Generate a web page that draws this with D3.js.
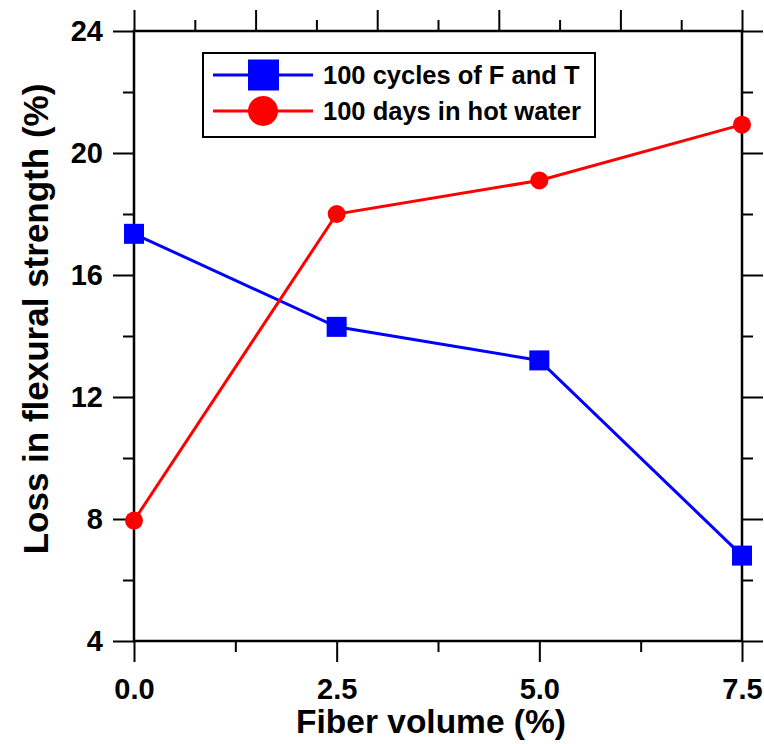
<!DOCTYPE html>
<html><head><meta charset="utf-8">
<script src="https://cdn.jsdelivr.net/npm/d3@7"></script>
<style>
html,body{margin:0;padding:0;background:#fff;}
svg{display:block;font-family:"Liberation Sans",Arial,sans-serif;font-weight:bold;}
</style></head>
<body><svg id="c" width="764" height="744"></svg>
<script>
const fiberVolume = [0, 2.5, 5.0, 7.5];
const freezeThaw = [17.35, 14.3, 13.2, 6.8];
const hotWater = [7.95, 18.0, 19.1, 20.93];
const seriesNames = ["100 cycles of F and T", "100 days in hot water"];
const xTicks = [0, 2.5, 5.0, 7.5];
const yTicks = [4, 8, 12, 16, 20, 24];
const xTitle = "Fiber volume (%)";
const yTitle = "Loss in flexural strength (%)";

const L = 134, R = 742, T = 31, B = 641;
const svg = d3.select("#c");
const x = d3.scaleLinear().domain([0, 7.5]).range([L, R]);
const y = d3.scaleLinear().domain([4, 24]).range([B, T]);

function styleAxis(g){
  g.select(".domain").remove();
  g.selectAll(".tick line").attr("stroke","#000").attr("stroke-width",2);
  g.selectAll(".tick text").attr("font-size",29).attr("font-weight","bold").attr("fill","#000").attr("font-family","'Liberation Sans',Arial,sans-serif");
}
// bottom axis
svg.append("g").attr("transform",`translate(0,${B})`)
  .call(d3.axisBottom(x).tickValues([1.25,3.75,6.25]).tickSize(11).tickFormat(""))
  .call(styleAxis);
svg.append("g").attr("transform",`translate(0,${B})`)
  .call(d3.axisBottom(x).tickValues(xTicks).tickSize(21).tickPadding(16).tickFormat(d3.format(".1f")))
  .call(styleAxis);
// top axis
svg.append("g").attr("transform",`translate(0,${T})`)
  .call(d3.axisTop(x).tickValues([0.75,2.25,3.75,5.25,6.75]).tickSize(11).tickFormat(""))
  .call(styleAxis);
svg.append("g").attr("transform",`translate(0,${T})`)
  .call(d3.axisTop(x).tickValues([0,1.5,3,4.5,6,7.5]).tickSize(21).tickFormat(""))
  .call(styleAxis);
// left axis
const yMinor = [6,10,14,18,22];
svg.append("g").attr("transform",`translate(${L},0)`)
  .call(d3.axisLeft(y).tickValues(yMinor).tickSize(11).tickFormat(""))
  .call(styleAxis);
svg.append("g").attr("transform",`translate(${L},0)`)
  .call(d3.axisLeft(y).tickValues(yTicks).tickSize(21).tickPadding(10).tickFormat(d3.format("d")))
  .call(styleAxis);
// right axis
svg.append("g").attr("transform",`translate(${R},0)`)
  .call(d3.axisRight(y).tickValues(yMinor).tickSize(11).tickFormat(""))
  .call(styleAxis);
svg.append("g").attr("transform",`translate(${R},0)`)
  .call(d3.axisRight(y).tickValues(yTicks).tickSize(21).tickFormat(""))
  .call(styleAxis);
// frame
svg.append("rect").attr("x",L).attr("y",T).attr("width",R-L).attr("height",B-T)
  .attr("fill","none").attr("stroke","#000").attr("stroke-width",2.5);

// titles
svg.append("text").attr("x",431).attr("y",733).attr("text-anchor","middle")
  .attr("font-size",33.5).attr("fill","#000").text(xTitle);
svg.append("text").attr("transform",`translate(48,319) rotate(-90)`).attr("text-anchor","middle")
  .attr("font-size",35).attr("fill","#000").text(yTitle);

const line = d3.line().x((d,i)=>x(fiberVolume[i])).y(d=>y(d));
// blue series
svg.append("path").datum(freezeThaw).attr("d",line).attr("fill","none").attr("stroke","#0000ff").attr("stroke-width",3);
svg.selectAll(".sq").data(freezeThaw).enter().append("rect")
  .attr("x",(d,i)=>x(fiberVolume[i])-10).attr("y",d=>y(d)-10).attr("width",20).attr("height",20).attr("fill","#0000ff");
// red series
svg.append("path").datum(hotWater).attr("d",line).attr("fill","none").attr("stroke","#ff0000").attr("stroke-width",3);
svg.selectAll(".ci").data(hotWater).enter().append("circle")
  .attr("cx",(d,i)=>x(fiberVolume[i])).attr("cy",d=>y(d)).attr("r",9).attr("fill","#ff0000");

// legend
const lg = svg.append("g");
lg.append("rect").attr("x",203).attr("y",53).attr("width",392).attr("height",84)
  .attr("fill","#fff").attr("stroke","#000").attr("stroke-width",2);
const rows = [75, 111];
const colors = ["#0000ff","#ff0000"];
rows.forEach((ry,i)=>{
  lg.append("line").attr("x1",213).attr("x2",313).attr("y1",ry).attr("y2",ry)
    .attr("stroke",colors[i]).attr("stroke-width",3);
  if(i===0){
    lg.append("rect").attr("x",248).attr("y",ry-15.5).attr("width",31).attr("height",31).attr("fill",colors[i]);
  } else {
    lg.append("circle").attr("cx",263).attr("cy",ry).attr("r",15).attr("fill",colors[i]);
  }
  lg.append("text").attr("x",323).attr("y",ry).attr("dy","0.36em").attr("font-size",25.5)
    .attr("fill","#000").text(seriesNames[i]);
});
</script></body></html>
